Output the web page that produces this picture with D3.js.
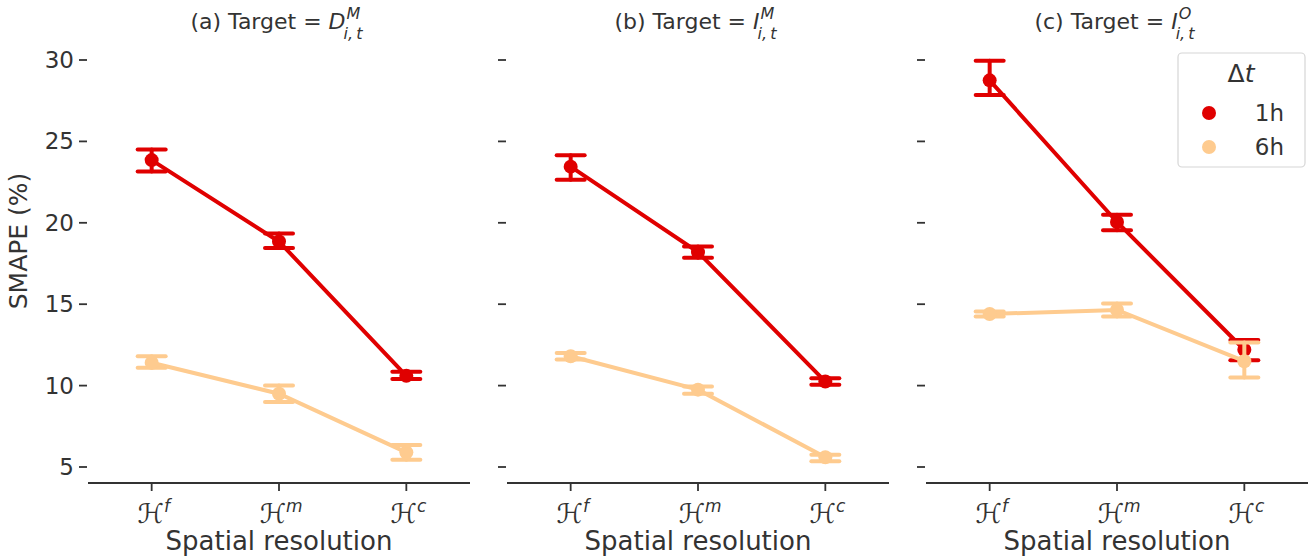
<!DOCTYPE html>
<html>
<head>
<meta charset="utf-8">
<script src="https://cdn.jsdelivr.net/npm/d3@7.9.0/dist/d3.min.js"></script>
<style>
  body { margin: 0; background: #fff; }
  svg { font-family: "DejaVu Sans", sans-serif; }
</style>
</head>
<body>
<svg width="1312" height="556"></svg>
<script>
// panel titles: target variable letter + superscript
const panelTags = ["(a)", "(b)", "(c)"];
const targetVar = ["D", "I", "I"];
const targetSup = ["M", "M", "O"];
const resolutions = ["f", "m", "c"];
const yTicks = [5, 10, 15, 20, 25, 30];
const steps = ["1h", "6h"];

// mean SMAPE per panel, per resolution
const mean1h = [[23.85, 18.85, 10.6], [23.45, 18.2, 10.25], [28.75, 20.05, 12.2]];
const lo1h   = [[23.15, 18.45, 10.4], [22.65, 17.85, 10.05], [27.85, 19.55, 11.55]];
const hi1h   = [[24.5, 19.35, 10.85], [24.15, 18.55, 10.45], [29.95, 20.5, 12.8]];
const mean6h = [[11.4, 9.5, 5.9], [11.8, 9.75, 5.6], [14.4, 14.65, 11.5]];
const lo6h   = [[11.1, 9.0, 5.45], [11.6, 9.5, 5.35], [14.25, 14.25, 10.5]];
const hi6h   = [[11.8, 10.0, 6.35], [12.0, 9.95, 5.75], [14.55, 15.05, 12.65]];

const colors = { "1h": "#e00000", "6h": "#fecb8f" };
const series = [
  { key: "1h", mean: mean1h, lo: lo1h, hi: hi1h },
  { key: "6h", mean: mean6h, lo: lo6h, hi: hi6h }
];

const svg = d3.select("svg");
const panelLeft = [88, 507, 926];
const panelW = 382;
const axisY = 483;
const y = d3.scaleLinear().domain([5, 30]).range([467, 60]);

panelLeft.forEach((left, p) => {
  const g = svg.append("g");
  const x = d3.scalePoint().domain(resolutions).range([left + panelW / 6, left + panelW * 5 / 6]);

  // y ticks (labels only on first panel)
  g.selectAll(".yt").data(yTicks).join("line")
    .attr("x1", left - 9).attr("x2", left - 1)
    .attr("y1", d => y(d)).attr("y2", d => y(d))
    .attr("stroke", "#333").attr("stroke-width", 1.8);
  if (p === 0) {
    g.selectAll(".yl").data(yTicks).join("text")
      .attr("x", left - 14).attr("y", d => y(d) + 8)
      .attr("text-anchor", "end").attr("font-size", 23).attr("fill", "#333")
      .text(d => d);
  }

  // bottom spine + x ticks
  g.append("line").attr("x1", left).attr("x2", left + panelW)
    .attr("y1", axisY).attr("y2", axisY).attr("stroke", "#333").attr("stroke-width", 2);
  g.selectAll(".xt").data(resolutions).join("line")
    .attr("x1", d => x(d)).attr("x2", d => x(d))
    .attr("y1", axisY).attr("y2", axisY + 8)
    .attr("stroke", "#333").attr("stroke-width", 1.8);
  const xl = g.selectAll(".xl").data(resolutions).join("text")
    .attr("x", d => x(d) + 2).attr("y", 523)
    .attr("text-anchor", "middle").attr("font-size", 27).attr("fill", "#333");
  xl.append("tspan").attr("font-style", "italic").text("ℋ");
  xl.append("tspan").attr("font-size", 17).attr("font-style", "italic").attr("dy", -11).text(d => d);

  g.append("text").attr("x", left + panelW / 2).attr("y", 550)
    .attr("text-anchor", "middle").attr("font-size", 26).attr("fill", "#333")
    .text("Spatial resolution");

  // title
  const title = g.append("text").attr("y", 29).attr("font-size", 22).attr("fill", "#333");
  title.append("tspan").text(panelTags[p] + " Target = ");
  title.append("tspan").attr("font-style", "italic").text(targetVar[p]);
  const mainW = title.node().getComputedTextLength();
  const tx = left + panelW / 2 - (mainW + 22) / 2;
  title.attr("x", tx);
  g.append("text").attr("x", tx + mainW + 1).attr("y", 19)
    .attr("font-size", 16).attr("font-style", "italic").attr("fill", "#333").text(targetSup[p]);
  g.append("text").attr("x", tx + mainW - 2).attr("y", 39)
    .attr("font-size", 16).attr("font-style", "italic").attr("fill", "#333").text("i,\u2009t");

  // series
  series.forEach(s => {
    const c = colors[s.key];
    const pts = resolutions.map((r, i) => ({ r, m: s.mean[p][i], lo: s.lo[p][i], hi: s.hi[p][i] }));
    const eg = g.append("g").attr("stroke", c).attr("stroke-width", 4).attr("stroke-linecap", "round");
    pts.forEach(d => {
      eg.append("line").attr("x1", x(d.r)).attr("x2", x(d.r)).attr("y1", y(d.lo)).attr("y2", y(d.hi));
      eg.append("line").attr("x1", x(d.r) - 14).attr("x2", x(d.r) + 14).attr("y1", y(d.lo)).attr("y2", y(d.lo));
      eg.append("line").attr("x1", x(d.r) - 14).attr("x2", x(d.r) + 14).attr("y1", y(d.hi)).attr("y2", y(d.hi));
    });
    g.append("path").datum(pts)
      .attr("d", d3.line().x(d => x(d.r)).y(d => y(d.m)))
      .attr("fill", "none").attr("stroke", c).attr("stroke-width", 4);
    g.selectAll(null).data(pts).join("circle")
      .attr("cx", d => x(d.r)).attr("cy", d => y(d.m)).attr("r", 7).attr("fill", c);
  });
});

// y label
svg.append("text").attr("transform", "translate(27,241) rotate(-90)")
  .attr("text-anchor", "middle").attr("font-size", 25).attr("fill", "#333").text("SMAPE (%)");

// legend
const lg = svg.append("g");
lg.append("rect").attr("x", 1178).attr("y", 53).attr("width", 127).attr("height", 114)
  .attr("rx", 4).attr("fill", "#fff").attr("fill-opacity", 0.85)
  .attr("stroke", "#d6d6d6").attr("stroke-width", 1.2);
const lt = lg.append("text").attr("x", 1241).attr("y", 82).attr("text-anchor", "middle")
  .attr("font-size", 25).attr("fill", "#333");
lt.append("tspan").text("Δ");
lt.append("tspan").attr("font-style", "italic").text("t");
steps.forEach((k, i) => {
  lg.append("circle").attr("cx", 1209).attr("cy", 113 + i * 34).attr("r", 7).attr("fill", colors[k]);
  lg.append("text").attr("x", 1284).attr("y", 121 + i * 34).attr("text-anchor", "end")
    .attr("font-size", 23).attr("fill", "#333").text(k);
});
</script>
</body>
</html>
